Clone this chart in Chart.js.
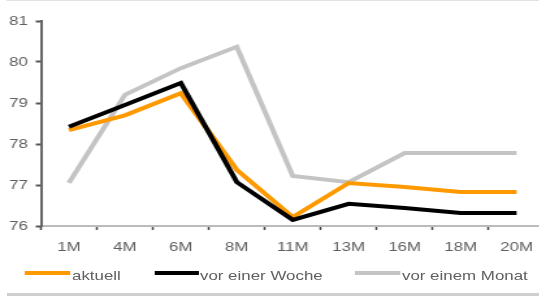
<!DOCTYPE html>
<html><head><meta charset="utf-8">
<script src="https://cdn.jsdelivr.net/npm/chart.js@4/dist/chart.umd.min.js"></script>
<style>
html,body{margin:0;padding:0;background:#fff;overflow:hidden;}
#outer{position:relative;width:539px;height:300px;overflow:hidden;}
#stage{position:absolute;left:0;top:0;width:420px;height:300px;transform:scaleX(1.3);transform-origin:0 0;font-family:"Liberation Sans",Arial,sans-serif;}
#c{position:absolute;left:0;top:0;}
.topline{position:absolute;left:4.6px;top:0;width:420px;height:1px;background:#e2e2e2;}
.sep{position:absolute;left:4.6px;top:293px;width:420px;height:3px;background:#cfcfcf;}
.lg{position:absolute;height:4px;top:271px;}
.lt{position:absolute;top:268px;font-size:13px;color:#606060;white-space:nowrap;}
</style></head><body>
<div id="outer"><div id="stage">
<canvas id="c" width="420" height="300"></canvas>
<div class="topline"></div>
<div class="lg" style="left:19.2px;width:34.6px;background:#ff9900"></div>
<div class="lt" style="left:55.4px">aktuell</div>
<div class="lg" style="left:119.2px;width:33.8px;background:#000"></div>
<div class="lt" style="left:153.8px">vor einer Woche</div>
<div class="lg" style="left:273px;width:34.7px;background:#c4c4c4"></div>
<div class="lt" style="left:309.2px">vor einem Monat</div>
<div class="sep"></div>
</div></div>
<script>
const categories = ["1M","4M","6M","8M","11M","13M","16M","18M","20M"];
const aktuell = [78.34,78.7,79.24,77.37,76.22,77.05,76.95,76.83,76.83];
const vorEinerWoche = [78.42,78.95,79.49,77.07,76.15,76.54,76.44,76.32,76.32];
const vorEinemMonat = [77.05,79.2,79.85,80.37,77.22,77.07,77.78,77.78,77.78];
const yTicks = [76,77,78,79,80,81];

const FONT = {family:'"Liberation Sans", Arial, sans-serif', size:13};
new Chart(document.getElementById('c'), {
  type: 'line',
  data: {
    labels: categories,
    datasets: [
      {label:'aktuell', data:aktuell, borderColor:'#ff9900', borderWidth:4, pointRadius:0, tension:0, order:2},
      {label:'vor einer Woche', data:vorEinerWoche, borderColor:'#000000', borderWidth:4, pointRadius:0, tension:0, order:1},
      {label:'vor einem Monat', data:vorEinemMonat, borderColor:'#c4c4c4', borderWidth:4, pointRadius:0, tension:0, order:3}
    ]
  },
  options: {
    responsive:false, animation:false,
    layout:{padding:{top:21,left:0,right:0,bottom:0}},
    plugins:{legend:{display:false}, tooltip:{enabled:false}},
    scales:{
      x:{
        offset:true,
        grid:{offset:true, drawOnChartArea:false, tickLength:4, tickWidth:1.5, color:'#444'},
        border:{color:'#bbbbbb', width:2},
        ticks:{color:'#606060', font:FONT, padding:10, maxRotation:0, autoSkip:false},
        afterFit:(s)=>{s.height=74;}
      },
      y:{
        min:76, max:81,
        afterBuildTicks:(s)=>{s.ticks=yTicks.map(v=>({value:v}));},
        grid:{drawOnChartArea:false, tickLength:4, tickWidth:2, color:'#555'},
        border:{color:'#666666', width:2},
        ticks:{color:'#606060', font:FONT, padding:6},
        afterFit:(s)=>{s.width=31.5;}
      }
    }
  }
});
</script>
</body></html>
